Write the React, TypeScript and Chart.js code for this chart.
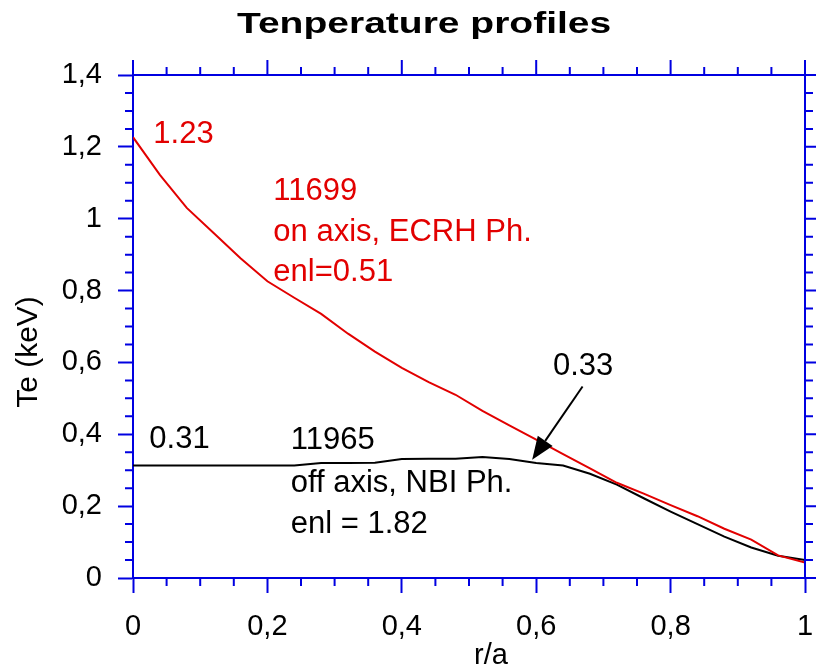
import React, { useEffect, useRef } from "react";
import { Chart, registerables } from "chart.js";

Chart.register(...registerables);

const rA = [0, 0.04, 0.08, 0.12, 0.16, 0.2, 0.24, 0.28, 0.32, 0.36, 0.4, 0.44, 0.48, 0.52, 0.56, 0.6, 0.64, 0.68, 0.72, 0.76, 0.8, 0.84, 0.88, 0.92, 0.96, 1.0];
const teOnAxis = [1.227, 1.122, 1.03, 0.96, 0.89, 0.826, 0.78, 0.735, 0.68, 0.63, 0.585, 0.545, 0.51, 0.465, 0.425, 0.385, 0.345, 0.305, 0.265, 0.235, 0.203, 0.172, 0.137, 0.107, 0.063, 0.043];
const teOffAxis = [0.313, 0.313, 0.313, 0.313, 0.313, 0.313, 0.313, 0.32, 0.32, 0.321, 0.331, 0.332, 0.332, 0.337, 0.331, 0.32, 0.313, 0.29, 0.26, 0.222, 0.185, 0.15, 0.115, 0.085, 0.062, 0.05];
const xTickLabels = ["0", "0,2", "0,4", "0,6", "0,8", "1"];
const yTickLabels = ["0", "0,2", "0,4", "0,6", "0,8", "1", "1,2", "1,4"];

const TITLE = "Tenperature profiles";
const X_TITLE = "r/a";
const Y_TITLE = "Te (keV)";
const redNotes = [
  { text: "1.23", x: 0.0303, y: 1.212 },
  { text: "11699", x: 0.2088, y: 1.053 },
  { text: "on axis, ECRH Ph.", x: 0.2088, y: 0.9387 },
  { text: "enl=0.51", x: 0.2088, y: 0.8253 },
];
const blackNotes = [
  { text: "0.31", x: 0.0243, y: 0.362 },
  { text: "11965", x: 0.2347, y: 0.3585 },
  { text: "off axis, NBI Ph.", x: 0.2347, y: 0.2404 },
  { text: "enl = 1.82", x: 0.2347, y: 0.1245 },
  { text: "0.33", x: 0.625, y: 0.5655 },
];
const arrowFrom = { x: 0.669, y: 0.533 };
const arrowTo = { x: 0.594, y: 0.329 };

const RED = "rgb(226,0,0)";
const BLUE = "rgb(0,0,225)";
const FONT = '"Liberation Sans", Arial, sans-serif';

const framePlugin = {
  id: "frame",
  afterDraw(chart: any) {
    const ctx = chart.ctx;
    const xs = chart.scales.x;
    const ys = chart.scales.y;
    const left = xs.getPixelForValue(0);
    const right = xs.getPixelForValue(1);
    const top = ys.getPixelForValue(1.4);
    const bottom = ys.getPixelForValue(0);
    ctx.save();
    ctx.strokeStyle = BLUE;
    ctx.lineWidth = 2;
    ctx.beginPath();
    ctx.moveTo(left, top);
    ctx.lineTo(right, top);
    ctx.lineTo(right, bottom);
    for (let i = 0; i <= 20; i++) {
      const px = xs.getPixelForValue(i * 0.05);
      const major = i % 4 === 0;
      const len = major ? 15 : 8;
      ctx.moveTo(px, top);
      ctx.lineTo(px, top - len);
      if (!major) {
        ctx.moveTo(px, bottom);
        ctx.lineTo(px, bottom + len);
      }
    }
    for (let i = 0; i <= 28; i++) {
      const py = ys.getPixelForValue(i * 0.05);
      const major = i % 4 === 0;
      const len = major ? 15 : 8;
      ctx.moveTo(right, py);
      ctx.lineTo(right + len, py);
      if (!major) {
        ctx.moveTo(left, py);
        ctx.lineTo(left - len, py);
      }
    }
    ctx.stroke();

    // title (horizontally stretched, as in the reference)
    ctx.fillStyle = "#000";
    ctx.font = "bold 30px " + FONT;
    ctx.textAlign = "left";
    ctx.textBaseline = "alphabetic";
    ctx.save();
    ctx.translate(237, 33);
    ctx.scale(1.3, 1);
    ctx.fillText(TITLE, 0, 0);
    ctx.restore();

    // axis titles
    ctx.font = "29px " + FONT;
    ctx.textAlign = "center";
    ctx.fillText(X_TITLE, 491, 664);
    ctx.font = "30px " + FONT;
    ctx.save();
    ctx.translate(37, 352);
    ctx.rotate(-Math.PI / 2);
    ctx.fillText(Y_TITLE, 0, 0);
    ctx.restore();

    // annotations
    ctx.font = "31px " + FONT;
    ctx.textAlign = "left";
    ctx.fillStyle = RED;
    for (const n of redNotes) ctx.fillText(n.text, xs.getPixelForValue(n.x), ys.getPixelForValue(n.y));
    ctx.fillStyle = "#000";
    for (const n of blackNotes) ctx.fillText(n.text, xs.getPixelForValue(n.x), ys.getPixelForValue(n.y));

    // arrow
    const x1 = xs.getPixelForValue(arrowFrom.x);
    const y1 = ys.getPixelForValue(arrowFrom.y);
    const x2 = xs.getPixelForValue(arrowTo.x);
    const y2 = ys.getPixelForValue(arrowTo.y);
    const ang = Math.atan2(y2 - y1, x2 - x1);
    const hl = 23;
    const hw = 9;
    const bx = x2 - hl * Math.cos(ang);
    const by = y2 - hl * Math.sin(ang);
    ctx.strokeStyle = "#000";
    ctx.lineWidth = 2;
    ctx.beginPath();
    ctx.moveTo(x1, y1);
    ctx.lineTo(bx, by);
    ctx.stroke();
    ctx.beginPath();
    ctx.moveTo(x2, y2);
    ctx.lineTo(bx + hw * Math.sin(ang), by - hw * Math.cos(ang));
    ctx.lineTo(bx - hw * Math.sin(ang), by + hw * Math.cos(ang));
    ctx.closePath();
    ctx.fill();
    ctx.restore();
  },
};

export default function App() {
  const ref = useRef<HTMLCanvasElement>(null);
  useEffect(() => {
    if (!ref.current) return;
    const chart = new Chart(ref.current, {
      type: "line",
      data: {
        datasets: [
          {
            label: "11699",
            data: rA.map((x, i) => ({ x, y: teOnAxis[i] })),
            borderColor: RED,
            borderWidth: 2,
            pointRadius: 0,
            tension: 0,
          },
          {
            label: "11965",
            data: rA.map((x, i) => ({ x, y: teOffAxis[i] })),
            borderColor: "#000",
            borderWidth: 2,
            pointRadius: 0,
            tension: 0,
          },
        ],
      },
      options: {
        responsive: false,
        animation: false,
        layout: { padding: { left: 0, right: 11, top: 75, bottom: 0 } },
        plugins: { legend: { display: false }, title: { display: false }, tooltip: { enabled: false } },
        scales: {
          x: {
            type: "linear",
            min: 0,
            max: 1,
            afterFit: (s: any) => {
              s.height = 92;
              s.paddingLeft = 0;
              s.paddingRight = 0;
            },
            border: { display: true, color: BLUE, width: 2 },
            grid: { drawOnChartArea: false, drawTicks: true, tickLength: 15, tickColor: BLUE, tickWidth: 2 },
            ticks: {
              stepSize: 0.2,
              color: "#000",
              padding: 17,
              maxRotation: 0,
              font: { family: FONT, size: 29 },
              callback: (_v: any, i: number) => xTickLabels[i],
            },
          },
          y: {
            type: "linear",
            min: 0,
            max: 1.4,
            afterFit: (s: any) => {
              s.width = 133;
              s.paddingTop = 0;
              s.paddingBottom = 0;
            },
            border: { display: true, color: BLUE, width: 2 },
            grid: { drawOnChartArea: false, drawTicks: true, tickLength: 15, tickColor: BLUE, tickWidth: 2 },
            ticks: {
              stepSize: 0.2,
              color: "#000",
              padding: 16,
              font: { family: FONT, size: 29 },
              callback: (_v: any, i: number) => yTickLabels[i],
            },
          },
        },
      },
      plugins: [framePlugin],
    });
    return () => chart.destroy();
  }, []);
  return (
    <div style={{ position: "fixed", left: 0, top: 0, width: 816, height: 670, background: "#fff" }}>
      <canvas ref={ref} width={816} height={670} />
    </div>
  );
}
